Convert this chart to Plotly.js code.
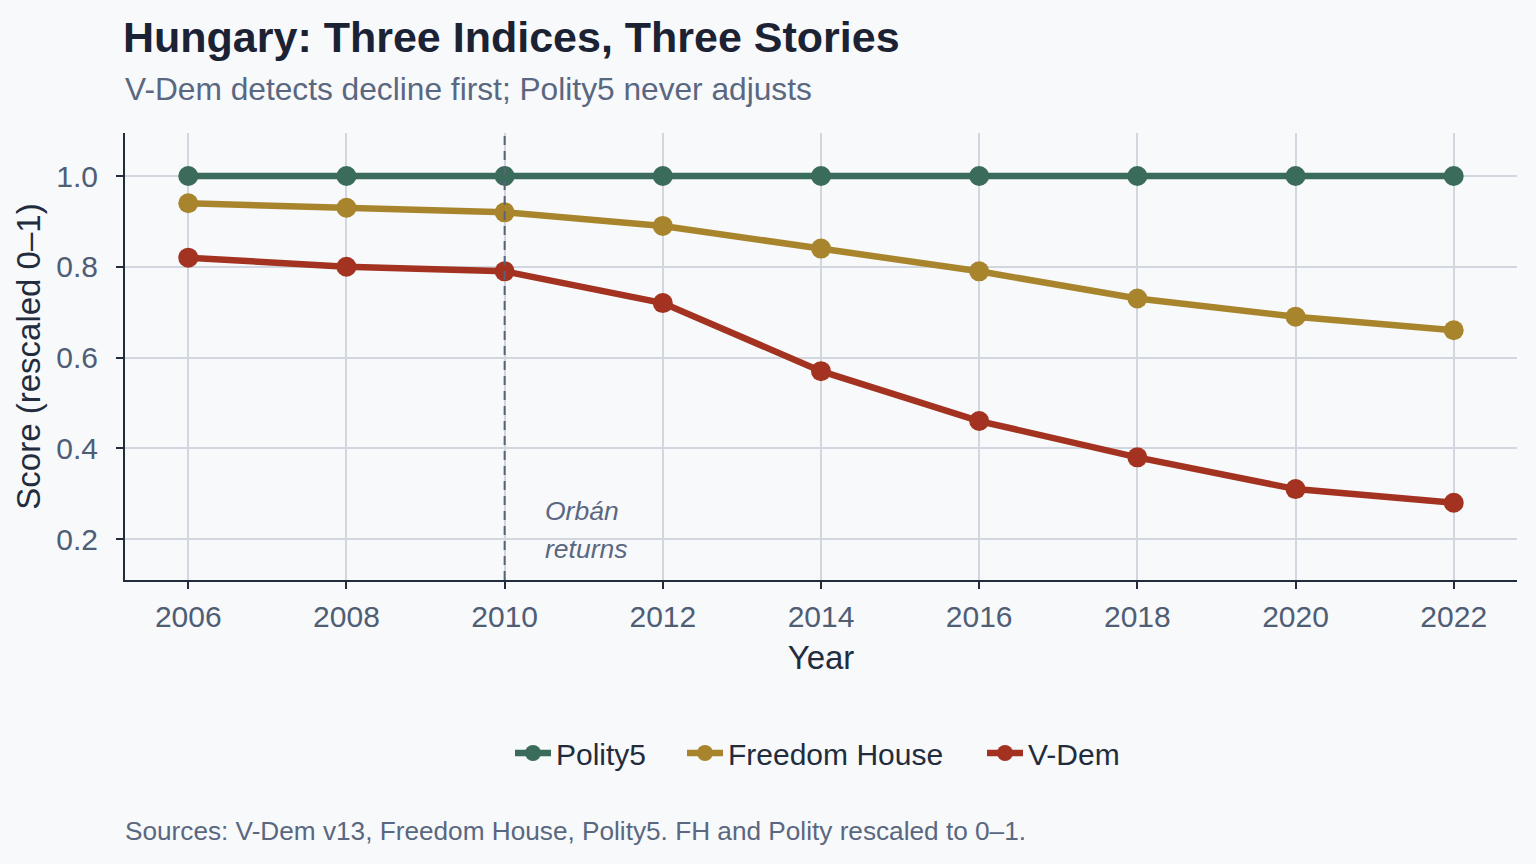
<!DOCTYPE html>
<html>
<head>
<meta charset="utf-8">
<script src="https://cdn.plot.ly/plotly-3.0.1.min.js"></script>
<style>
  html, body { margin: 0; padding: 0; background: #f7f9fb; }
  #chart { width: 1536px; height: 864px; }
</style>
</head>
<body>
<div id="chart"></div>
<script>
const years = [2006, 2008, 2010, 2012, 2014, 2016, 2018, 2020, 2022];
const polity5 = [1.0, 1.0, 1.0, 1.0, 1.0, 1.0, 1.0, 1.0, 1.0];
const freedomHouse = [0.94, 0.93, 0.92, 0.89, 0.84, 0.79, 0.73, 0.69, 0.66];
const vdem = [0.82, 0.80, 0.79, 0.72, 0.57, 0.46, 0.38, 0.31, 0.28];
const seriesNames = ["Polity5", "Freedom House", "V-Dem"];
const seriesColors = ["#3b6b5a", "#a8852d", "#a33320"];
const yTicks = [0.2, 0.4, 0.6, 0.8, 1.0];
const yTickText = ["0.2", "0.4", "0.6", "0.8", "1.0"];
const eventYear = 2010;

const FONT = "Liberation Sans, Arial, sans-serif";
const seriesData = [polity5, freedomHouse, vdem];
const legendIds = ["legend", "legend2", "legend3"];
// left edge (px) of each legend entry
const legendLeft = [510, 682, 982];

const traces = seriesData.map((vals, i) => ({
  x: years,
  y: vals,
  type: "scatter",
  mode: "lines+markers",
  name: seriesNames[i],
  legend: legendIds[i],
  line: { color: seriesColors[i], width: 6.5 },
  marker: { color: seriesColors[i], size: 20 },
  hoverinfo: "x+y+name"
}));

// plot area: top 133px, bottom 580px
const paperY = px => (580 - px) / 447;

const layout = {
  width: 1536,
  height: 864,
  paper_bgcolor: "#f7f9fb",
  plot_bgcolor: "#f7f9fb",
  margin: { l: 125, r: 19, t: 133, b: 284 },
  font: { family: FONT, color: "#4f5d75" },
  title: {
    text: "<b>Hungary: Three Indices, Three Stories</b>",
    font: { family: FONT, size: 43, color: "#1b2234" },
    x: 123 / 1536, xanchor: "left", xref: "container",
    y: 1 - 37 / 864, yanchor: "middle", yref: "container"
  },
  xaxis: {
    range: [2005.2, 2022.8],
    tickvals: years,
    ticktext: years.map(String),
    showgrid: true,
    gridcolor: "#d2d6de",
    gridwidth: 2,
    zeroline: false,
    showline: true,
    linecolor: "#232c3d",
    linewidth: 2,
    ticks: "outside",
    ticklen: 7,
    tickwidth: 2,
    tickcolor: "#232c3d",
    ticklabelstandoff: 2,
    tickfont: { family: FONT, size: 30, color: "#4f5d75" },
    title: { text: "Year", font: { family: FONT, size: 33, color: "#232c3d" }, standoff: 14 }
  },
  yaxis: {
    range: [0.1097, 1.0948],
    tickvals: yTicks,
    ticktext: yTickText,
    showgrid: true,
    gridcolor: "#d2d6de",
    gridwidth: 2,
    zeroline: false,
    showline: true,
    linecolor: "#232c3d",
    linewidth: 2,
    ticks: "outside",
    ticklen: 7,
    tickwidth: 2,
    tickcolor: "#232c3d",
    ticklabelstandoff: 12,
    tickfont: { family: FONT, size: 30, color: "#4f5d75" },
    title: { text: "Score (rescaled 0–1)", font: { family: FONT, size: 33, color: "#232c3d" }, standoff: 6 }
  },
  showlegend: true,
  shapes: [{
    type: "line",
    xref: "x", yref: "paper",
    x0: eventYear, x1: eventYear, y0: 0, y1: 1,
    line: { color: "#56637a", width: 2, dash: "9px,6px" },
    layer: "above"
  }],
  annotations: [
    {
      text: "V-Dem detects decline first; Polity5 never adjusts",
      xref: "paper", yref: "paper",
      x: -0.0015, xanchor: "left",
      y: paperY(89), yanchor: "middle",
      showarrow: false,
      font: { family: FONT, size: 31.7, color: "#5a6780" }
    },
    {
      text: "Sources: V-Dem v13, Freedom House, Polity5. FH and Polity rescaled to 0–1.",
      xref: "paper", yref: "paper",
      x: -0.0015, xanchor: "left",
      y: paperY(831), yanchor: "middle",
      showarrow: false,
      font: { family: FONT, size: 26.2, color: "#5a6780" }
    },
    {
      text: "<i>Orbán</i>",
      xref: "x", yref: "y",
      x: eventYear + 0.48, xanchor: "left",
      y: 0.2617, yanchor: "middle",
      showarrow: false,
      font: { family: FONT, size: 26.5, color: "#5a6780" }
    },
    {
      text: "<i>returns</i>",
      xref: "x", yref: "y",
      x: eventYear + 0.48, xanchor: "left",
      y: 0.178, yanchor: "middle",
      showarrow: false,
      font: { family: FONT, size: 26.5, color: "#5a6780" }
    }
  ]
};

legendIds.forEach((id, i) => {
  layout[id] = {
    orientation: "h",
    x: legendLeft[i] / 1536, xanchor: "left", xref: "container",
    y: 1 - 753 / 864, yanchor: "middle", yref: "container",
    font: { family: FONT, size: 30, color: "#232c3d" },
    bgcolor: "rgba(0,0,0,0)",
    itemwidth: 36
  };
});

Plotly.newPlot("chart", traces, layout, { displayModeBar: false });
</script>
</body>
</html>
